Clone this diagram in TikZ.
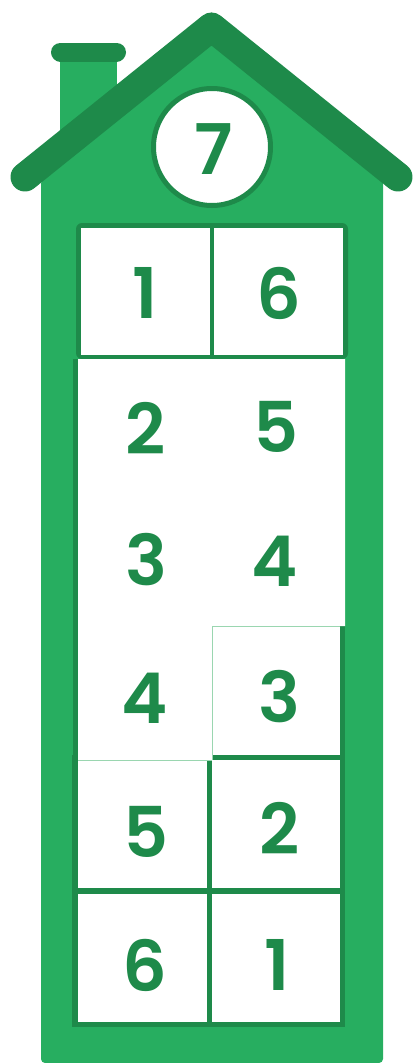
\documentclass[tikz,border=0pt]{standalone}
\usepackage{fontspec}
\newfontfamily\digitfont{Poppins SemiBold}
\definecolor{lightg}{HTML}{27AE60}
\definecolor{darkg}{HTML}{1E8A4A}
\definecolor{paleg}{HTML}{9AD6B0}
\tikzset{
  digit/.style={inner sep=0pt, text=darkg, font=\digitfont\fontsize{70}{70}\selectfont},
  darkfill/.style={fill=darkg, draw=none},
  whitefill/.style={fill=white, draw=none},
  thinline/.style={draw=paleg, line width=1pt}
}
\begin{document}
\begin{tikzpicture}[x=1pt,y=-1pt]
\useasboundingbox (0,0) rectangle (414,1063);
% body
\fill[lightg, rounded corners=4pt] (41,1063) -- (41,180) -- (211.5,30) -- (383,180) -- (383,1063) -- cycle;
% chimney
\fill[lightg] (60,52) rectangle (117,160);
\draw[darkg, line width=19pt, line cap=round] (60.5,52) -- (116.5,52);
% roof
\draw[darkg, line width=29pt, line cap=round, line join=round] (25,177) -- (211.5,27) -- (398,177);
% round window
\node[circle, fill=white, draw=darkg, line width=5pt, minimum size=117pt, inner sep=0pt] (win) at (212,147) {};
% top frame
\fill[darkg, rounded corners=6pt] (76,223) rectangle (348,359);
\fill[white] (81,228) rectangle (343,355);
\fill[darkg] (210,228) rectangle (214,361);
% bottom frame
\path[darkfill] (72,755) rectangle (345,1027);
\path[whitefill] (78,760) rectangle (207,888);
\path[whitefill] (212,760) rectangle (340,888);
\path[whitefill] (78,894) rectangle (207,1022);
\path[whitefill] (212,894) rectangle (340,1022);
% right border of middle cell
\path[darkfill] (340,626) rectangle (345,760);
% middle white area
\path[whitefill] (78,359) -- (345,359) -- (345,626) -- (212,626) -- (212,760) -- (78,760) -- cycle;
\path[whitefill] (212,626) rectangle (340,755);
\draw[thinline] (212,626.5) -- (340,626.5);
\draw[thinline] (212.5,626) -- (212.5,760);
\draw[thinline] (78,760) -- (212,760);
% left border
\path[darkfill] (73,359) rectangle (78,1027);
% digits
\node[digit] (d7) at (213.5,149.5) {7};
\node[digit] (a1) at (145,293) {1};
\node[digit] (b6) at (279,293) {6};
\node[digit] (a2) at (146,428) {2};
\node[digit] (b5) at (276,427) {5};
\node[digit] (a3) at (146,560) {3};
\node[digit] (b4) at (275,561) {4};
\node[digit] (a4) at (145,698) {4};
\node[digit] (b3) at (279,697) {3};
\node[digit] (a5) at (146,832) {5};
\node[digit] (b2) at (280,828) {2};
\node[digit] (a6) at (145,965) {6};
\node[digit] (b1) at (277,965) {1};
\end{tikzpicture}
\end{document}
